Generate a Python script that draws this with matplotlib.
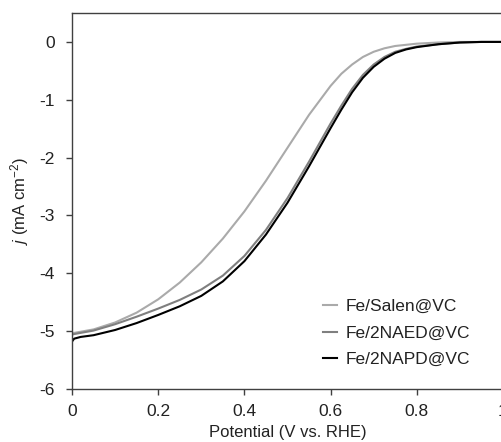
import matplotlib
matplotlib.use("Agg")
import matplotlib.pyplot as plt

plt.rcParams['font.family'] = ['Liberation Sans', 'DejaVu Sans']
plt.rcParams['mathtext.fontset'] = 'custom'
plt.rcParams['mathtext.rm'] = 'Liberation Sans'
plt.rcParams['mathtext.it'] = 'Liberation Sans:italic'

# Potential (V vs. RHE)
potential = [0.0, 0.005, 0.02, 0.05, 0.1, 0.15, 0.2, 0.25, 0.3, 0.35, 0.4, 0.45,
             0.5, 0.55, 0.6, 0.625, 0.65, 0.675, 0.7, 0.725, 0.75, 0.775, 0.8,
             0.85, 0.9, 0.95, 1.0]

salen = [-5.03, -5.03, -5.01, -4.97, -4.85, -4.68, -4.45, -4.16, -3.81, -3.40, -2.93, -2.40,
         -1.83, -1.26, -0.76, -0.55, -0.39, -0.26, -0.17, -0.11, -0.07, -0.05, -0.03,
         -0.01, 0.0, 0.0, 0.0]

naed = [-5.06, -5.05, -5.03, -4.99, -4.88, -4.75, -4.61, -4.46, -4.28, -4.04, -3.70, -3.25,
        -2.70, -2.07, -1.41, -1.10, -0.81, -0.57, -0.39, -0.26, -0.17, -0.12, -0.08,
        -0.04, -0.01, 0.0, 0.0]

napd = [-5.18, -5.13, -5.10, -5.07, -4.98, -4.86, -4.72, -4.57, -4.39, -4.14, -3.79, -3.33,
        -2.78, -2.15, -1.49, -1.17, -0.87, -0.62, -0.43, -0.29, -0.19, -0.13, -0.09,
        -0.04, -0.01, 0.0, 0.0]

labels = ['Fe/Salen@VC', 'Fe/2NAED@VC', 'Fe/2NAPD@VC']
colors = ['#aaaaaa', '#7f7f7f', '#000000']

xticks = [0, 0.2, 0.4, 0.6, 0.8, 1]
xticklabels = ['0', '0.2', '0.4', '0.6', '0.8', '1']
yticks = [0, -1, -2, -3, -4, -5, -6]

fig = plt.figure(figsize=(5.01, 4.42), dpi=100)
W, H = 501, 442
ax = fig.add_axes([72 / W, (H - 389) / H, (503 - 72) / W, (389 - 13) / H])

for y, lab, c in zip([salen, naed, napd], labels, colors):
    ax.plot(potential, y, color=c, lw=1.5, label=lab)

ax.set_xlim(0, 1)
ax.set_ylim(-6, 0.5)
ax.set_xticks(xticks)
ax.set_xticklabels(xticklabels)
ax.set_yticks(yticks)
ax.set_yticklabels([str(v) if v == 0 else '-' + str(abs(v)) for v in yticks])

spc = '#404040'
for s in ['left', 'bottom', 'top']:
    ax.spines[s].set_color(spc)
    ax.spines[s].set_linewidth(1.0)
ax.spines['right'].set_visible(False)
ax.tick_params(axis='both', direction='out', length=4.5, width=1.0, color=spc,
               labelsize=12.5, labelcolor='#222222')
ax.tick_params(axis='y', pad=8)
ax.tick_params(axis='x', pad=6)

ax.set_xlabel('Potential (V vs. RHE)', fontsize=12, color='#222222', labelpad=4.5)
ax.set_ylabel(r'$\it{j}$ (mA cm$^{-2}$)', fontsize=12, color='#222222', labelpad=6)

leg = ax.legend(loc='lower right', bbox_to_anchor=(0.961, 0.016), frameon=False,
                fontsize=12.5, handlelength=0.85, handletextpad=0.5, labelspacing=0.66)
for t in leg.get_texts():
    t.set_color('#222222')

fig.savefig('out.png', dpi=100)
